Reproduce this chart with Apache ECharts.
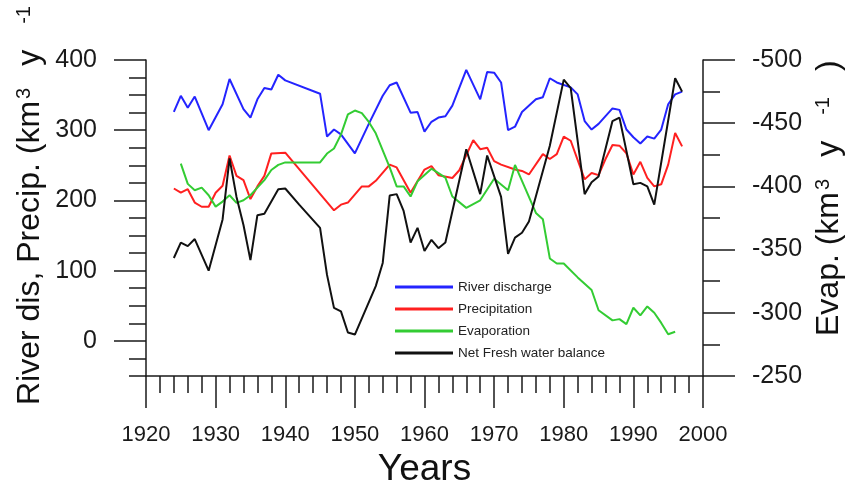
<!DOCTYPE html>
<html>
<head>
<meta charset="utf-8">
<script src="https://cdn.jsdelivr.net/npm/echarts@6/dist/echarts.min.js"></script>
<style>
  html, body { margin: 0; padding: 0; background: #fff; }
  #chart { width: 854px; height: 482px; }
</style>
</head>
<body>
<div id="chart"></div>
<script>
// Annual freshwater budget components (km3 per year)
const riverYears = [1924,1925,1926,1927,1929,1931,1932,1934,1935,1936,1937,1938,1939,1940,1945,1946,1947,1948,1950,1952,1954,1955,1956,1958,1959,1960,1961,1962,1963,1964,1966,1968,1969,1970,1971,1972,1973,1974,1976,1977,1978,1979,1981,1982,1983,1984,1985,1986,1987,1988,1989,1990,1991,1992,1993,1994,1995,1996,1997];
const riverDischarge = [326,349,332,348,300,337,373,330,318,344,360,358,379,371,352,291,301,294,267,309,349,364,368,325,326,298,312,318,320,335,386,344,383,382,368,300,305,326,344,347,374,368,361,351,313,301,309,320,331,329,301,290,281,291,288,301,337,351,355];

const precipYears = [1924,1925,1926,1927,1928,1929,1930,1931,1932,1933,1934,1935,1936,1937,1938,1940,1947,1948,1949,1951,1952,1953,1955,1956,1958,1960,1961,1962,1964,1965,1967,1968,1969,1970,1971,1973,1974,1975,1977,1978,1979,1980,1981,1983,1984,1985,1986,1987,1988,1989,1990,1991,1992,1993,1994,1995,1996,1997];
const precipitation = [217,211,216,197,191,191,211,221,264,235,229,202,220,235,267,268,186,194,197,220,220,228,251,247,211,244,249,236,232,243,286,273,275,256,251,244,242,237,266,259,266,291,285,230,239,236,259,279,278,267,237,255,232,220,223,251,296,277];

// Evaporation is drawn against the right-hand (inverted) axis
const evapYears = [1925,1926,1927,1928,1929,1930,1931,1932,1933,1934,1935,1936,1937,1938,1939,1940,1945,1946,1947,1948,1949,1950,1951,1952,1953,1955,1956,1957,1958,1959,1961,1963,1964,1966,1968,1970,1972,1973,1976,1977,1978,1979,1980,1982,1984,1985,1987,1988,1989,1990,1991,1992,1993,1994,1995,1996];
const evaporation = [-418,-402,-397,-399,-393,-384,-388,-393,-387,-389,-393,-399,-405,-413,-417,-419,-419,-426,-430,-441,-457,-460,-458,-451,-442,-415,-400,-400,-392,-404,-414,-407,-392,-383,-389,-406,-397,-417,-379,-374,-343,-339,-339,-328,-318,-302,-294,-295,-291,-304,-298,-305,-300,-292,-283,-285];

const netYears = [1924,1925,1926,1927,1929,1931,1932,1933,1934,1935,1936,1937,1939,1940,1942,1945,1946,1947,1948,1949,1950,1953,1954,1955,1956,1957,1958,1959,1960,1961,1962,1963,1966,1968,1969,1971,1972,1973,1974,1975,1978,1980,1981,1983,1984,1985,1987,1988,1990,1991,1992,1993,1996,1997];
const netBalance = [118,140,135,145,100,173,260,205,165,115,179,181,216,217,194,161,94,47,42,12,9,78,111,207,209,185,140,161,128,144,132,140,273,209,264,205,124,147,154,170,278,372,360,209,226,234,313,318,223,225,220,194,374,355];

const seriesNames = ['River discharge', 'Precipitation', 'Evaporation', 'Net Fresh water balance'];
const leftLabelValues = [0, 100, 200, 300, 400];

const FONT = '"Liberation Sans", Arial, Helvetica, sans-serif';
const INK = '#1a1a1a';
const pairs = (xs, ys) => xs.map((x, i) => [x, ys[i]]);
const lineStyle = { color: INK, width: 1.5 };

// rich-text pieces for the rotated unit titles (km^3 y^-1)
const unitRich = {
  s3: { fontSize: 20, fontFamily: FONT, fill: '#111', verticalAlign: 'top', padding: [0, 0, 0, 2] },
  y: { fontSize: 32, fontFamily: FONT, fill: '#111', padding: [0, 0, 0, 22] },
  s1: { fontSize: 20, fontFamily: FONT, fill: '#111', verticalAlign: 'top', padding: [0, 0, 0, 26] },
  cp: { fontSize: 32, fontFamily: FONT, fill: '#111', padding: [0, 0, 0, 26] }
};

const chart = echarts.init(document.getElementById('chart'), null, { renderer: 'canvas' });

chart.setOption({
  animation: false,
  backgroundColor: '#fff',
  grid: { left: 146, right: 151, top: 60, bottom: 106, containLabel: false, outerBoundsMode: 'none' },
  xAxis: {
    type: 'value', min: 1920, max: 2000, interval: 10,
    axisLine: { onZero: false, lineStyle },
    axisTick: { length: 32, lineStyle },
    minorTick: { show: true, splitNumber: 5, length: 17, lineStyle },
    axisLabel: { margin: 48, fontSize: 22, color: INK, fontFamily: FONT, formatter: v => String(v) },
    splitLine: { show: false },
    minorSplitLine: { show: false },
    name: 'Years', nameLocation: 'middle', nameGap: 70,
    nameTextStyle: { fontSize: 37, fontFamily: FONT, color: '#111' }
  },
  yAxis: [
    {
      type: 'value', position: 'left', min: -50, max: 400, interval: 25,
      axisLine: { show: true, onZero: false, lineStyle },
      axisTick: { show: true, length: 32, lineStyle, customValues: leftLabelValues },
      axisLabel: { margin: 49, fontSize: 25, color: INK, fontFamily: FONT, customValues: leftLabelValues },
      splitLine: { show: false }
    },
    {
      // short ticks every 25 units on the left scale
      type: 'value', position: 'left', min: -50, max: 400, interval: 25,
      axisLine: { show: false, onZero: false },
      axisTick: { show: true, length: 17, lineStyle },
      axisLabel: { show: false },
      splitLine: { show: false }
    },
    {
      type: 'value', position: 'right', inverse: true, min: -500, max: -250, interval: 50,
      axisLine: { show: true, onZero: false, lineStyle },
      axisTick: { show: true, length: 32, lineStyle },
      minorTick: { show: true, splitNumber: 2, length: 17, lineStyle },
      axisLabel: { margin: 49, fontSize: 25, color: INK, fontFamily: FONT },
      splitLine: { show: false },
      minorSplitLine: { show: false }
    }
  ],
  legend: {
    orient: 'vertical', left: 390, top: 275,
    icon: 'rect', itemWidth: 58, itemHeight: 3, itemGap: 8,
    textStyle: { fontSize: 13.5, fontFamily: FONT, color: '#222', lineHeight: 14 },
    data: seriesNames
  },
  series: [
    { name: seriesNames[0], type: 'line', yAxisIndex: 0, data: pairs(riverYears, riverDischarge),
      symbol: 'none', color: '#2424ff', lineStyle: { width: 2 } },
    { name: seriesNames[1], type: 'line', yAxisIndex: 0, data: pairs(precipYears, precipitation),
      symbol: 'none', color: '#ff2020', lineStyle: { width: 2 } },
    { name: seriesNames[2], type: 'line', yAxisIndex: 2, data: pairs(evapYears, evaporation),
      symbol: 'none', color: '#33cc33', lineStyle: { width: 2 } },
    { name: seriesNames[3], type: 'line', yAxisIndex: 0, data: pairs(netYears, netBalance),
      symbol: 'none', color: '#111111', lineStyle: { width: 2 } }
  ],
  graphic: [
    {
      // left title, reading upward from its anchor
      type: 'text', x: 30, y: 405, rotation: Math.PI / 2,
      style: {
        text: 'River dis, Precip. (km{s3|3}{y|y}{s1|-1}{cp|)}',
        fontSize: 32, fontFamily: FONT, fill: '#111',
        align: 'left', verticalAlign: 'middle',
        rich: unitRich
      }
    },
    {
      type: 'text', x: 829, y: 336, rotation: Math.PI / 2,
      style: {
        text: 'Evap. (km{s3|3}{y|y}{s1|-1}{cp|)}',
        fontSize: 32, fontFamily: FONT, fill: '#111',
        align: 'left', verticalAlign: 'middle',
        rich: unitRich
      }
    }
  ]
});
</script>
</body>
</html>
